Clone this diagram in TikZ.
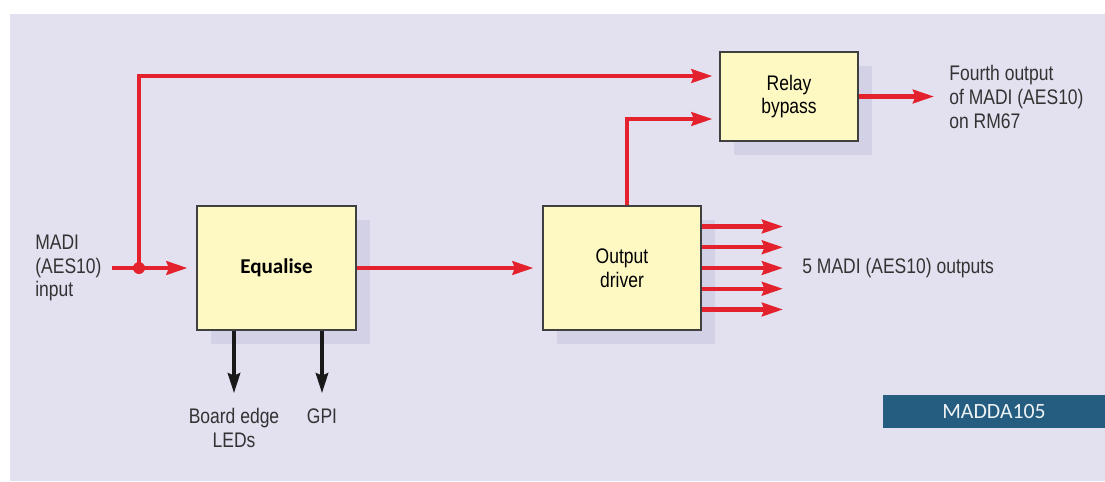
\documentclass[tikz,border=0pt]{standalone}
\usepackage{fontspec}
\setmainfont{Liberation Sans}[FakeStretch=0.83]
\newfontfamily\eqfont{Carlito}
\usetikzlibrary{arrows.meta,shadows}
\definecolor{bgcol}{HTML}{E3E1F0}
\definecolor{boxcol}{HTML}{FEF9C3}
\definecolor{shadecol}{HTML}{D3D1E6}
\definecolor{sigred}{HTML}{E3222E}
\definecolor{tagblue}{HTML}{245D80}
\begin{document}
\begin{tikzpicture}[x=0.02cm, y=-0.02cm,
        font=\fontsize{12}{13.6}\selectfont,
        block/.style={draw=black!75, line width=0.6pt, fill=boxcol, align=center, inner sep=0pt,
            drop shadow={shadow xshift=0.28cm, shadow yshift=-0.28cm, fill=shadecol, opacity=1}},
        lbl/.style={text=black!80, inner sep=0pt},
        sig/.style={draw=sigred, line width=2.4pt, -{Stealth[length=0.42cm, width=0.27cm, inset=0.05cm]}},
        ctl/.style={draw=black!90, line width=1.8pt, -{Stealth[length=0.4cm, width=0.25cm, inset=0.05cm]}}]
        \useasboundingbox (0,0) rectangle (1105,481);
        \fill[bgcol] (10,14) rectangle (1105,481);

        \node[block, minimum width=3.18cm, minimum height=2.48cm] (eq) at (276.5,268) {\eqfont\bfseries Equalise};
        \node[block, minimum width=3.16cm, minimum height=2.48cm] (drv) at (622,268) {Output\\driver};
        \node[block, minimum width=2.76cm, minimum height=1.78cm] (relay) at (789,96.5) {Relay\\bypass};

        \node[lbl, anchor=west, align=left] (madi) at (35,268) {MADI\\(AES10)\\input};
        \node[lbl, anchor=west, align=left] (fourth) at (949,97) {Fourth output\\of MADI (AES10)\\on RM67};
        \node[lbl, anchor=west] (five) at (802,268) {5 MADI (AES10) outputs};
        \node[lbl, anchor=north, align=center] (leds) at (234,408) {Board edge\\LEDs};
        \node[lbl, anchor=north] (gpi) at (322,408) {GPI};
        \node[fill=tagblue, text=white!92!tagblue, minimum width=4.44cm, minimum height=0.66cm, inner sep=0pt,
            font=\eqfont\fontsize{12.4}{13}\selectfont] (tag) at (994,411.5) {MADDA105};

        \coordinate (split) at (139,268);
        \draw[sig, -] ([xshift=0.2cm]madi.east |- split) -- (split);
        \draw[sig, shorten >=0.18cm] (split) -- (eq.west);
        \draw[sig, shorten >=0.14cm] (split) |- ([yshift=0.41cm]relay.west);
        \fill[sigred] (split) circle (0.12cm);
        \draw[sig, shorten >=0.18cm] (eq.east) -- (drv.west);
        \draw[sig, shorten >=0.14cm] ([xshift=0.1cm]drv.north) |- ([yshift=-0.45cm]relay.west);
        \draw[sig] (relay.east) -- ([xshift=-0.3cm]relay.east -| fourth.west);
        \foreach \k in {-2,...,2}
            \draw[sig] ([yshift=\k*0.415cm]drv.east) -- ([xshift=-0.38cm, yshift=\k*0.415cm]five.west);

        \draw[ctl, shorten >=0.3cm] (leds.north |- eq.south) -- (leds.north);
        \draw[ctl, shorten >=0.3cm] (gpi.north |- eq.south) -- (gpi.north);
    \end{tikzpicture}
\end{document}
